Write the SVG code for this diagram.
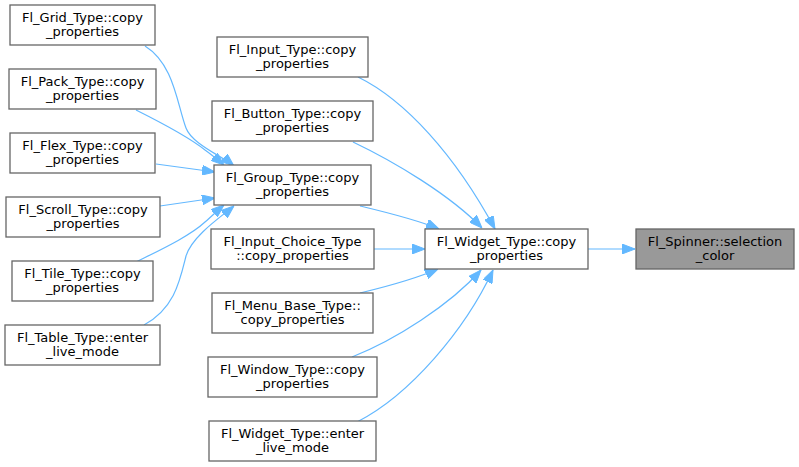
<svg xmlns="http://www.w3.org/2000/svg" width="799" height="467" viewBox="0 0 799 467">
<style>
.n rect{fill:#ffffff;stroke:#666666;stroke-width:1.3}
.root rect{fill:#999999;stroke:#666666;stroke-width:1.3}
text{font-family:"DejaVu Sans",sans-serif;font-size:13px;fill:#000000;text-anchor:middle}
.e path{fill:none;stroke:#63b8ff;stroke-width:1.2;marker-end:url(#ah)}
</style>
<defs>
<marker id="ah" viewBox="0 0 13 10" refX="13" refY="5" markerWidth="13" markerHeight="10" markerUnits="userSpaceOnUse" orient="auto">
<path d="M0,0 L13,5 L0,10 z" fill="#63b8ff" stroke="#63b8ff" stroke-width="1"/>
</marker>
</defs>
<rect width="799" height="467" fill="#ffffff"/>
<g id="connectors" class="e">
<path d="M145,46 C174,64 177,104 186,128 C192,144 222,156 234,166"/>
<path d="M136,110 C160,122 190,138 205,150 C212,155 218,160 224,165"/>
<path d="M156,164 L215,172"/>
<path d="M160,206 L215,198"/>
<path d="M136,262 C160,250 190,236 205,222 C212,216 218,210 224,205"/>
<path d="M144,325 C175,308 180,280 186,256 C192,236 222,216 234,206"/>
<path d="M358,77 C405,100 455,155 495,229"/>
<path d="M353,142 C395,162 450,195 482,228"/>
<path d="M360,206 C385,212 415,219 439,229"/>
<path d="M374,249 L425,249"/>
<path d="M360,293 C385,287 415,279 438,269"/>
<path d="M352,357 C395,340 450,305 481,270"/>
<path d="M357,422 C410,395 465,330 493,270"/>
<path d="M588,249 L635,249"/>
</g>
<g id="grid" class="n"><rect x="10" y="5" width="145" height="40"/><text x="82.5" y="21.5">Fl_Grid_Type::copy</text><text x="82.5" y="35.5">_properties</text></g>
<g id="pack" class="n"><rect x="9" y="69" width="147" height="40"/><text x="82.5" y="85.5">Fl_Pack_Type::copy</text><text x="82.5" y="99.5">_properties</text></g>
<g id="flex" class="n"><rect x="10" y="133" width="145" height="40"/><text x="82.5" y="149.5">Fl_Flex_Type::copy</text><text x="82.5" y="163.5">_properties</text></g>
<g id="scroll" class="n"><rect x="6" y="197" width="154" height="40"/><text x="83" y="213.5">Fl_Scroll_Type::copy</text><text x="83" y="227.5">_properties</text></g>
<g id="tile" class="n"><rect x="12" y="261" width="141" height="40"/><text x="82.5" y="277.5">Fl_Tile_Type::copy</text><text x="82.5" y="291.5">_properties</text></g>
<g id="table" class="n"><rect x="5" y="325" width="155" height="40"/><text x="82.5" y="341.5">Fl_Table_Type::enter</text><text x="82.5" y="355.5">_live_mode</text></g>
<g id="input" class="n"><rect x="217" y="37" width="151" height="40"/><text x="292.5" y="53.5">Fl_Input_Type::copy</text><text x="292.5" y="67.5">_properties</text></g>
<g id="button" class="n"><rect x="212" y="101" width="161" height="40"/><text x="292.5" y="117.5">Fl_Button_Type::copy</text><text x="292.5" y="131.5">_properties</text></g>
<g id="group" class="n"><rect x="214" y="165" width="157" height="40"/><text x="292.5" y="181.5">Fl_Group_Type::copy</text><text x="292.5" y="195.5">_properties</text></g>
<g id="inputchoice" class="n"><rect x="211" y="229" width="163" height="40"/><text x="292.5" y="245.5">Fl_Input_Choice_Type</text><text x="292.5" y="259.5">::copy_properties</text></g>
<g id="menubase" class="n"><rect x="212" y="293" width="161" height="40"/><text x="292.5" y="309.5">Fl_Menu_Base_Type::</text><text x="292.5" y="323.5">copy_properties</text></g>
<g id="window" class="n"><rect x="208" y="357" width="169" height="40"/><text x="292.5" y="373.5">Fl_Window_Type::copy</text><text x="292.5" y="387.5">_properties</text></g>
<g id="widgetenter" class="n"><rect x="209" y="421" width="167" height="40"/><text x="292.5" y="437.5">Fl_Widget_Type::enter</text><text x="292.5" y="451.5">_live_mode</text></g>
<g id="widgetcopy" class="n"><rect x="425" y="229" width="163" height="40"/><text x="506.5" y="245.5">Fl_Widget_Type::copy</text><text x="506.5" y="259.5">_properties</text></g>
<g id="spinner" class="root"><rect x="636" y="229" width="158" height="40"/><text x="715" y="245.5">Fl_Spinner::selection</text><text x="715" y="259.5">_color</text></g>
</svg>
